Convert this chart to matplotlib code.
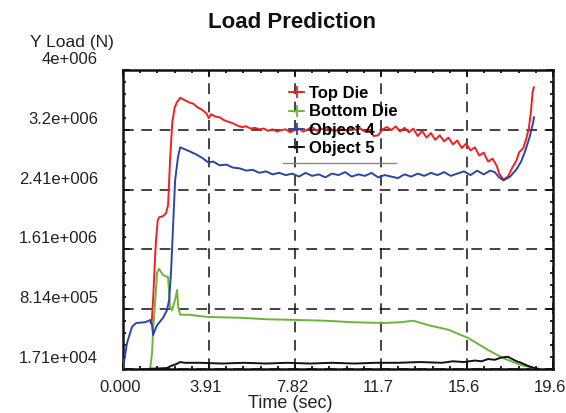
import numpy as np
import matplotlib
matplotlib.use('Agg')
import matplotlib.pyplot as plt
from matplotlib.lines import Line2D
from matplotlib.ticker import AutoMinorLocator
from matplotlib.transforms import ScaledTranslation

plt.rcParams['font.family'] = ['Liberation Sans', 'DejaVu Sans']

# values, load in MN, time in s
top_t = [1.25, 1.30, 1.37, 1.45, 1.50, 1.58, 1.65, 1.80, 1.95, 2.05, 2.14, 2.24, 2.35, 2.45,
         2.6, 2.8, 3.0, 3.2, 3.4, 3.6, 3.8, 3.9, 4.0, 4.2, 4.4, 4.6, 4.8, 5.0, 5.2, 5.4,
         5.6, 5.8, 6.0, 6.2, 6.4, 6.6, 6.8, 7.0, 7.2, 7.4, 7.6, 7.8, 8.0, 8.2, 8.4, 8.6,
         8.8, 9.0, 9.2, 9.4, 9.6, 9.8, 10.0, 10.2, 10.4, 10.6, 10.8, 11.0, 11.2, 11.4, 11.6,
         11.8, 12.0, 12.2, 12.4, 12.6, 12.8, 13.0, 13.2, 13.4, 13.6, 13.8, 14.0, 14.2, 14.4,
         14.6, 14.8, 15.0, 15.2, 15.4, 15.6, 15.8, 16.0, 16.2, 16.4, 16.6, 16.8, 17.0, 17.1,
         17.3, 17.5, 17.7, 17.9, 18.0, 18.2, 18.35, 18.45, 18.55, 18.62, 18.68]
top_load = [0.64, 0.62, 0.94, 1.45, 1.73, 2.00, 2.04, 2.05, 2.09, 2.20, 2.80, 3.30, 3.50, 3.57,
            3.63, 3.60, 3.57, 3.55, 3.50, 3.47, 3.42, 3.36, 3.41, 3.38, 3.37, 3.33, 3.31, 3.29,
            3.26, 3.24, 3.25, 3.22, 3.23, 3.21, 3.22, 3.19, 3.21, 3.18, 3.20, 3.21, 3.17, 3.20,
            3.22, 3.18, 3.21, 3.24, 3.19, 3.22, 3.20, 3.23, 3.18, 3.21, 3.21, 3.19, 3.23, 3.20,
            3.22, 3.18, 3.20, 3.12, 3.13, 3.21, 3.24, 3.20, 3.25, 3.18, 3.23, 3.17, 3.22, 3.12,
            3.19, 3.10, 3.16, 3.07, 3.13, 3.05, 3.10, 3.01, 3.06, 2.96, 3.02, 2.93, 2.97, 2.86,
            2.90, 2.78, 2.82, 2.72, 2.62, 2.54, 2.58, 2.70, 2.80, 2.90, 2.96, 3.10, 3.22, 3.45,
            3.70, 3.77]

bottom_t = [1.23, 1.32, 1.37, 1.46, 1.55, 1.64, 1.82, 2.05, 2.14, 2.23, 2.37, 2.46, 2.51,
            2.6, 3.0, 3.87, 5.33, 6.5, 8.0, 9.2, 10.5, 11.8, 12.6, 13.2, 13.9, 14.8, 15.7,
            16.6, 17.3, 18.1, 18.7, 18.8]
bottom_load = [0.0, 0.23, 0.54, 0.90, 1.30, 1.35, 1.27, 1.24, 0.84, 0.80, 0.94, 1.07, 0.84,
               0.74, 0.74, 0.71, 0.70, 0.68, 0.67, 0.66, 0.64, 0.63, 0.64, 0.66, 0.60, 0.54,
               0.43, 0.27, 0.16, 0.07, 0.03, 0.02]

obj4_t = [0.0, 0.18, 0.41, 0.6, 1.0, 1.25, 1.32, 1.37, 1.46, 1.55, 1.82, 2.0, 2.1, 2.19, 2.28,
          2.37, 2.5, 2.6, 3.0, 3.3, 3.6, 3.87, 4.1, 4.4, 4.7, 5.0, 5.3, 5.6, 5.9, 6.2, 6.5,
          6.8, 7.1, 7.4, 7.7, 8.0, 8.3, 8.6, 8.9, 9.2, 9.5, 9.8, 10.1, 10.4, 10.7, 11.0, 11.3,
          11.6, 11.9, 12.2, 12.5, 12.8, 13.1, 13.4, 13.7, 14.0, 14.3, 14.6, 14.9, 15.2, 15.5,
          15.8, 16.1, 16.4, 16.7, 16.9, 17.1, 17.3, 17.6, 17.9, 18.1, 18.3, 18.5, 18.64, 18.69]
obj4_load = [0.03, 0.36, 0.58, 0.63, 0.64, 0.67, 0.60, 0.47, 0.54, 0.60, 0.70, 0.80, 0.94,
             1.34, 1.94, 2.53, 2.84, 2.97, 2.92, 2.88, 2.83, 2.77, 2.78, 2.73, 2.74, 2.70,
             2.69, 2.66, 2.67, 2.63, 2.65, 2.61, 2.63, 2.60, 2.62, 2.58, 2.63, 2.59, 2.61,
             2.57, 2.62, 2.60, 2.64, 2.58, 2.61, 2.59, 2.63, 2.57, 2.60, 2.58, 2.56, 2.61,
             2.58, 2.62, 2.59, 2.63, 2.60, 2.64, 2.59, 2.62, 2.65, 2.60, 2.66, 2.61, 2.66,
             2.64, 2.57, 2.53, 2.58, 2.68, 2.78, 2.93, 3.12, 3.29, 3.37]

obj5_t = [1.2, 2.0, 2.2, 2.4, 2.6, 2.8, 3.5, 4.5, 5.5, 6.5, 7.5, 8.5, 9.5, 10.5, 11.5, 12.5,
          13.5, 14.5, 15.0, 15.5, 16.0, 16.3, 16.6, 16.9, 17.2, 17.5, 17.7, 17.9, 18.1, 18.4,
          18.7, 18.9]
obj5_load = [0.02, 0.03, 0.06, 0.08, 0.11, 0.10, 0.10, 0.09, 0.10, 0.09, 0.10, 0.09, 0.10,
             0.09, 0.10, 0.10, 0.11, 0.10, 0.12, 0.11, 0.13, 0.12, 0.15, 0.14, 0.17, 0.18,
             0.15, 0.12, 0.10, 0.06, 0.03, 0.02]

x_labels = ['0.000', '3.91', '7.82', '11.7', '15.6', '19.6']
y_labels = ['1.71e+004', '8.14e+005', '1.61e+006', '2.41e+006', '3.2e+006', '4e+006']
names = ['Top Die', 'Bottom Die', 'Object 4', 'Object 5']
colors = ['#ee2020', '#6cb43a', '#2c44a8', '#111111']

fig = plt.figure(figsize=(5.66, 4.13), dpi=100)
ax = fig.add_axes([0.2173, 0.1065, 0.7597, 0.7240])

xmin, xmax = 0.0, 19.55
ymin, ymax = 1.71e4, 4.0e6
ax.set_xlim(xmin, xmax)
ax.set_ylim(ymin, ymax)

series = [(top_t, top_load), (bottom_t, bottom_load), (obj4_t, obj4_load), (obj5_t, obj5_load)]
for (t, v), c in zip(series, colors):
    ax.plot(t, np.array(v) * 1e6, color=c, lw=1.4, zorder=3)

ax.set_xticks(np.linspace(xmin, xmax, len(x_labels)))
ax.set_xticklabels(x_labels)
ax.set_yticks(np.linspace(ymin, ymax, len(y_labels)))
ax.set_yticklabels(y_labels)
ax.xaxis.set_minor_locator(AutoMinorLocator(5))
ax.yaxis.set_minor_locator(AutoMinorLocator(5))
ax.tick_params(which='both', direction='in', top=True, right=True, width=1.3, colors='#111')
ax.tick_params(which='major', length=5)
ax.tick_params(which='minor', length=2.5)
ax.tick_params(axis='x', labelsize=12, pad=8, labelcolor='#222')
ax.tick_params(axis='y', labelsize=12, pad=18, labelcolor='#222')

# labels sit a bit off their ticks in the original
for lab in ax.get_yticklabels():
    lab.set_transform(lab.get_transform() + ScaledTranslation(0, 0.12, fig.dpi_scale_trans))
for lab in ax.get_xticklabels():
    lab.set_transform(lab.get_transform() + ScaledTranslation(-0.03, 0, fig.dpi_scale_trans))

for s in ax.spines.values():
    s.set_linewidth(1.8)
    s.set_color('#111')

ax.grid(True, which='major', color='#111', lw=1.1, linestyle=(0, (7, 5)), zorder=1)
ax.set_axisbelow(True)

handles = [Line2D([], [], color=c, lw=1.3, marker='+', markersize=8, markeredgewidth=1.3)
           for c in colors]
ax.legend(handles, names, loc='upper left', bbox_to_anchor=(0.36, 0.985), frameon=False,
          handlelength=0.9, handletextpad=0.3, labelspacing=0.2, borderpad=0.2,
          prop={'weight': 'bold', 'size': 12})
ax.plot([0.372, 0.635], [0.689, 0.689], transform=ax.transAxes, color='#888', lw=1.0)

fig.text(292 / 566, 1 - 22 / 413, 'Load Prediction', ha='center', va='center',
         fontsize=16, fontweight='bold', color='#111')
fig.text(72 / 566, 1 - 42 / 413, 'Y Load (N)', ha='center', va='center', fontsize=12.5,
         color='#222')
fig.text(290 / 566, 1 - 403 / 413, 'Time (sec)', ha='center', va='center', fontsize=13,
         color='#222')

fig.savefig('out.png', dpi=100)
